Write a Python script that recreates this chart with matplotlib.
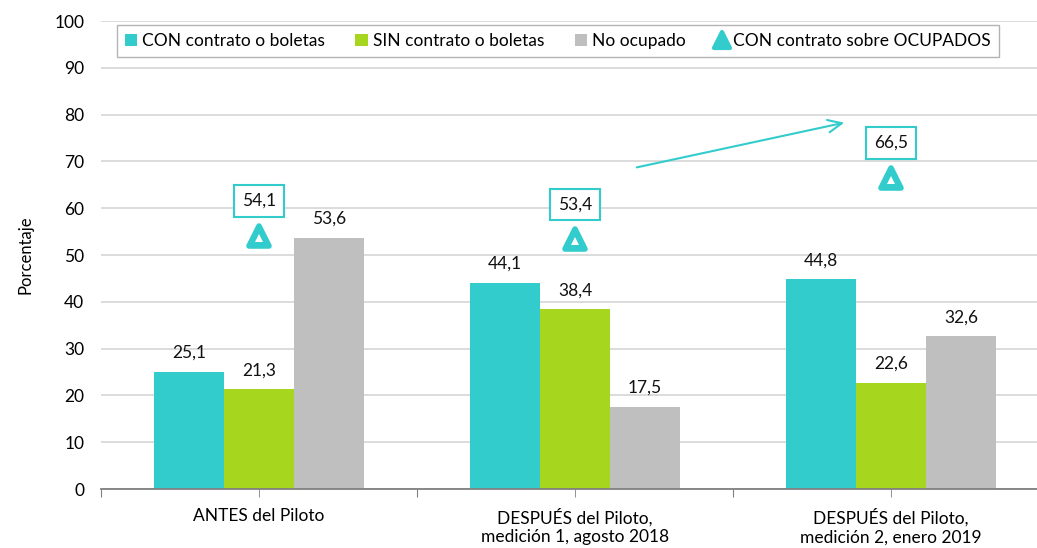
import matplotlib.pyplot as plt
from matplotlib.markers import MarkerStyle
from matplotlib.lines import Line2D
import numpy as np

plt.rcParams['font.family'] = ['Lato', 'DejaVu Sans']

grupos = ['ANTES del Piloto', 'DESPUÉS del Piloto,\nmedición 1, agosto 2018',
          'DESPUÉS del Piloto,\nmedición 2, enero 2019']
series = ['CON contrato o boletas', 'SIN contrato o boletas', 'No ocupado']
con_contrato = [25.1, 44.1, 44.8]
sin_contrato = [21.3, 38.4, 22.6]
no_ocupado = [53.6, 17.5, 32.6]
con_sobre_ocupados = [54.1, 53.4, 66.5]

colores = ['#33CCCC', '#A6D71E', '#BFBFBF']
teal = '#33CCCC'
fs = 12.5

fig = plt.figure(figsize=(10.37, 5.48), dpi=100)
ax = fig.add_axes([101 / 1037, 59 / 548, 948 / 1037, 468 / 548])

x = np.arange(len(grupos))
w = 0.2215
valores = [con_contrato, sin_contrato, no_ocupado]
handles = []
for i, (vals, col, nom) in enumerate(zip(valores, colores, series)):
    xs = x + (i - 1) * w
    b = ax.bar(xs, vals, width=w, color=col, label=nom, zorder=3)
    handles.append(b)
    for xi, v in zip(xs, vals):
        ax.annotate(f'{v:.1f}'.replace('.', ','), (xi, v), xytext=(0, 8),
                    textcoords='offset points', ha='center', va='bottom',
                    fontsize=fs, color='#111111', zorder=4)

# triangulos de ocupados
tri = MarkerStyle('^', joinstyle='round')
ax.plot(x, con_sobre_ocupados, linestyle='none', marker=tri, markersize=14,
        color=teal, markeredgecolor=teal, markeredgewidth=4, zorder=5)
ax.plot(x, np.array(con_sobre_ocupados) - 0.5, linestyle='none', marker='^',
        markersize=6, color='white', markeredgewidth=0, zorder=6)
for xi, v in zip(x, con_sobre_ocupados):
    ax.annotate(f'{v:.1f}'.replace('.', ','), (xi, v), xytext=(0, 25),
                textcoords='offset points', ha='center', va='center',
                fontsize=fs, color='#111111', zorder=6,
                bbox=dict(boxstyle='square,pad=0.45', fc='white', ec=teal, lw=1.5))

ax.annotate('', xy=(1.861, 78.4), xytext=(1.187, 68.6),
            arrowprops=dict(arrowstyle='->,head_length=1.0,head_width=0.45',
                            color=teal, lw=1.5), zorder=6)

ax.set_ylim(0, 100)
ax.set_xlim(-0.5, 2.5)
ax.set_yticks(np.arange(0, 101, 10))
ax.yaxis.grid(True, color='#D9D9D9', lw=1.3, zorder=0)
ax.tick_params(axis='y', length=0, labelsize=fs, pad=12)
ax.set_ylabel('Porcentaje', fontsize=12, labelpad=15)

ax.set_xticks([-0.5, 0.5, 1.5, 2.5])
ax.set_xticklabels([])
ax.set_xticks(x, minor=True)
ax.set_xticklabels(grupos, minor=True, fontsize=fs)
ax.tick_params(axis='x', which='both', length=6, color='#808080', direction='out')
ax.tick_params(axis='x', which='minor', pad=8)

for s in ['top', 'right', 'left']:
    ax.spines[s].set_visible(False)
ax.spines['bottom'].set_color('#808080')
ax.spines['bottom'].set_linewidth(1.3)
ax.spines['bottom'].set_zorder(4)

handles.append(Line2D([], [], linestyle='none', marker=tri, markersize=11,
                      color=teal, markeredgewidth=3))
labels = series + ['CON contrato sobre OCUPADOS']
leg = ax.legend(handles, labels, loc='upper left', bbox_to_anchor=(16 / 948, 0.991),
                borderaxespad=0, ncol=4, frameon=True, fancybox=False,
                edgecolor='#A0A0A0', fontsize=fs, handlelength=0.7, handleheight=0.7,
                handletextpad=0.3, columnspacing=1.75, borderpad=0.45)
leg.get_frame().set_linewidth(1.0)

fig.savefig('out.png', dpi=100)
